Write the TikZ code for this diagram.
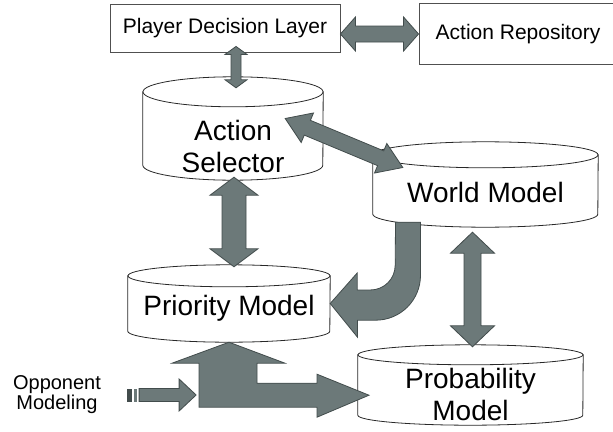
\documentclass[tikz,border=0pt]{standalone}
\usepackage{fontspec}
\setmainfont{Liberation Sans}
\usetikzlibrary{calc}
\definecolor{arrowgray}{RGB}{108,121,121}
\definecolor{arrowline}{RGB}{66,76,76}
\definecolor{boxline}{RGB}{80,80,80}
\definecolor{cylline}{RGB}{40,40,40}
% fat two-headed arrow: tips #1 and #2, half shaft #3, half head #4, head length #5
\newcommand{\fatdouble}[5]{%
  \path ($(#1)!#5!(#2)$) coordinate (fa) ($(#2)!#5!(#1)$) coordinate (fb);
  \filldraw[fat] (#1) -- ($(fa)!#4!90:(#2)$) -- ($(fa)!#3!90:(#2)$)
    -- ($(fb)!#3!-90:(#1)$) -- ($(fb)!#4!-90:(#1)$) -- (#2)
    -- ($(fb)!#4!90:(#1)$) -- ($(fb)!#3!90:(#1)$)
    -- ($(fa)!#3!-90:(#2)$) -- ($(fa)!#4!-90:(#2)$) -- cycle;
}
% drum outline round a store node: #1 node, #2 half width, #3 radius of the caps
\newcommand{\drum}[3]{%
  \filldraw[cyl] ($(#1.north west)+(0,#3)$) -- ($(#1.south west)+(0,-#3)$)
    arc[start angle=180, end angle=360, x radius=#2pt, y radius=#3pt]
    -- ($(#1.north east)+(0,#3)$) -- cycle;
  \filldraw[cyl] ($(#1.north)+(0,#3)$) ellipse[x radius=#2pt, y radius=#3pt];
}
\begin{document}
\begin{tikzpicture}[x=1pt,y=-1pt]
\tikzset{
  box/.style={draw=boxline, fill=white, line width=0.9pt, inner sep=0pt,
    font=\fontsize{21}{24}\selectfont},
  store/.style={inner sep=0pt},
  cyl/.style={draw=cylline, fill=white, line width=0.8pt},
  bigtext/.style={font=\fontsize{28}{32}\selectfont, align=center, inner sep=0pt},
  fat/.style={fill=arrowgray, draw=arrowline, line width=0.8pt, line join=miter}
}
\useasboundingbox (0,0) rectangle (613,431);
% the two boxes on top
\node[box, minimum width=230, minimum height=48] (pdl) at (225,28) {Player Decision Layer};
\node[box, minimum width=198, minimum height=61] (ar) at (518,34) {Action Repository};
% the four stores
\node[store, minimum width=180, minimum height=103] (sel) at (233,128.5) {};
\node[store, minimum width=225, minimum height=85] (wm) at (485.5,184.5) {};
\node[store, minimum width=202, minimum height=77] (pri) at (229,303.5) {};
\node[store, minimum width=225, minimum height=80] (prob) at (470.5,385) {};
\drum{sel}{90}{15}
\drum{wm}{112.5}{13}
\drum{pri}{101}{11}
\drum{prob}{112.5}{10}
\node[bigtext] (sel-t) at ([yshift=-18pt]sel.center) {Action\\Selector};
\node[bigtext] (wm-t) at ([yshift=-8pt]wm.center) {World Model};
\node[bigtext] (pri-t) at ([yshift=-5pt]pri.center) {Priority Model};
\node[bigtext] (prob-t) at ([yshift=-9pt]prob.center) {Probability\\Model};
\node[align=center, inner sep=0pt, font=\fontsize{20}{20}\selectfont] (opp) at (57,395) {Opponent\\Modeling};
% end points of the arrows
\coordinate (pa-a) at (pdl.east |- ar.west);
\coordinate (pa-b) at (ar.west);
\coordinate (ps-a) at ($(sel.north |- pdl.south)+(3,-6)$);
\coordinate (ps-b) at ($(sel.north)+(3,11)$);
\coordinate (sp-a) at ($(sel.south)+(1,-3)$);
\coordinate (sp-b) at ($(sel.south |- pri.north)+(1,2)$);
\coordinate (sw-a) at ($(sel.east)+(-38,-10)$);
\coordinate (sw-b) at ($(wm.west)+(30,-17)$);
\coordinate (wp-a) at ($(wm.south)+(-13,5)$);
\coordinate (wp-b) at ($(prob.north)+(2,2)$);
% double arrows
\fatdouble{pa-a}{pa-b}{8pt}{17pt}{15pt}
\fatdouble{ps-a}{ps-b}{5pt}{11pt}{8pt}
\fatdouble{sp-a}{sp-b}{12pt}{24pt}{18pt}
\fatdouble{sw-a}{sw-b}{8pt}{16pt}{24pt}
\fatdouble{wp-a}{wp-b}{8.5pt}{22pt}{21pt}
% bent arrow from the world model into the priority model
\filldraw[fat] ($(wm.south)+(-90,-5)$) -- ++(25,0) -- ++(0,53)
  .. controls +(0,25) and +(25,0) .. ++(-45,45) -- ++(-18,0) -- ++(0,17)
  -- (pri.east) -- ++(27,-30.5) -- ++(0,17) -- ++(13,0)
  .. controls +(14,0) and +(0,14) .. ++(25,-25) -- cycle;
% forked arrow below the priority model
\filldraw[fat] (pri.south) -- ++(56,21) -- ++(-28,0) -- ++(0,20) -- ++(60,0)
  -- ++(0,-9) -- ++(52,21) -- ++(-52,22) -- ++(0,-10) -- ++(-118,0)
  -- ++(0,-44) -- ++(-27,0) -- cycle;
% striped arrow from opponent modeling
\fill[arrowline] ($(opp.east)+(26,-6.5)$) rectangle ++(5,13);
\fill[arrowgray] ($(opp.east)+(33,-6.5)$) rectangle ++(3,13);
\filldraw[fat] ($(opp.east)+(38,-6.5)$) -- ++(40,0) -- ++(0,-9.5) -- ++(17,16)
  -- ++(-17,16) -- ++(0,-9.5) -- ++(-40,0) -- cycle;
\end{tikzpicture}
\end{document}
